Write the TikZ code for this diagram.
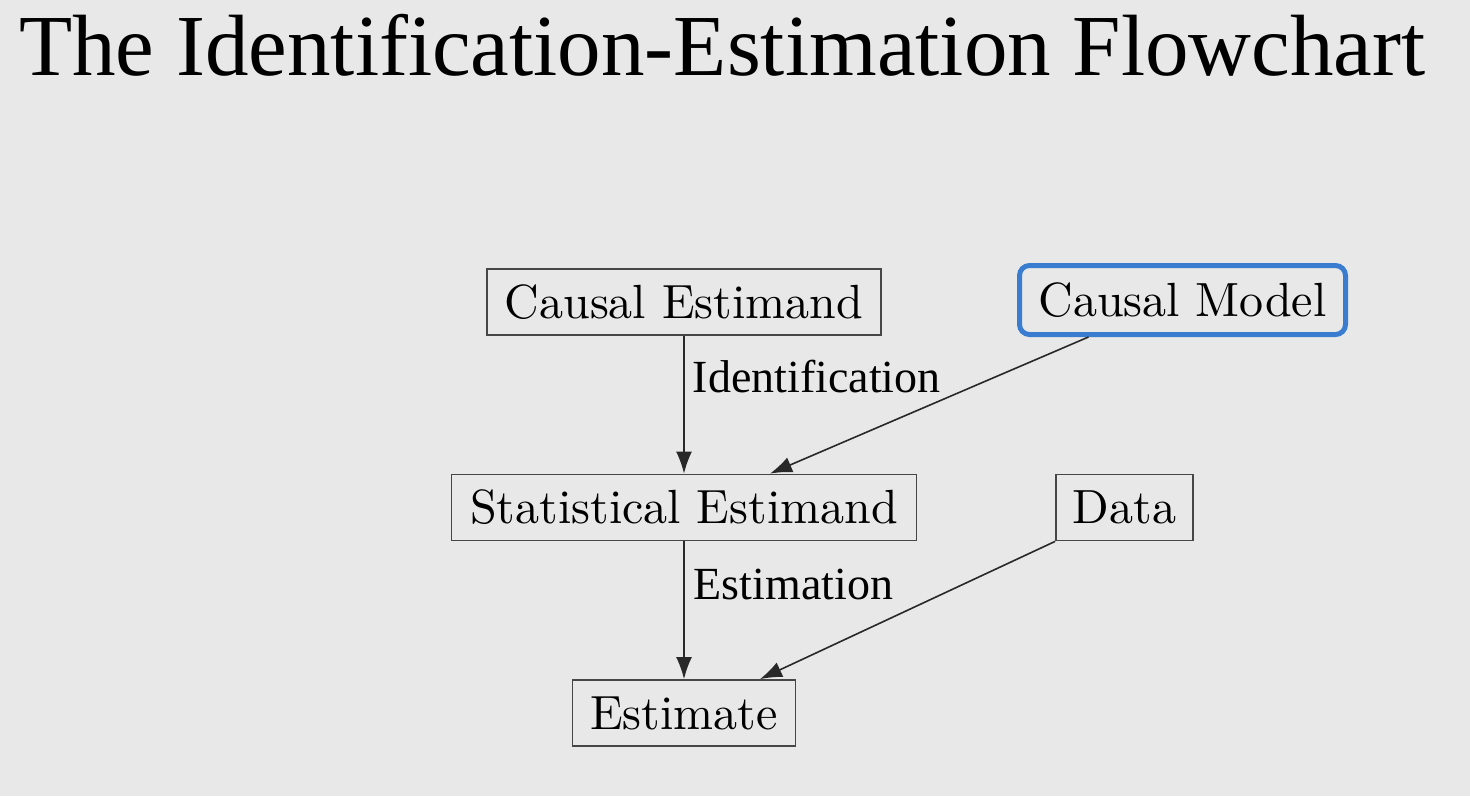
\documentclass[tikz,border=0pt]{standalone}
\usepackage{fontspec}
\newfontfamily\garafont{Liberation Serif}
\usetikzlibrary{arrows.meta}
\definecolor{bg}{RGB}{232,232,232}
\definecolor{boxline}{RGB}{70,70,70}
\definecolor{arrline}{RGB}{40,40,40}
\definecolor{cmblue}{RGB}{58,125,208}
\newcommand{\bigtxt}[1]{\scalebox{4.8}{\fontsize{10}{12}\selectfont #1}}
\begin{document}
\begin{tikzpicture}[x=1pt,y=-1pt,
  box/.style={draw=boxline, line width=1.8pt, minimum height=66pt, inner sep=0pt, anchor=center},
  cmbox/.style={draw=cmblue, line width=5pt, rounded corners=10pt, minimum height=69pt, inner sep=0pt, anchor=center},
  arr/.style={draw=arrline, line width=1.6pt, -{Latex[length=22pt,width=16pt]}},
  lbl/.style={font=\garafont\fontsize{46}{50}\selectfont, inner sep=0pt, anchor=base west, text=black},
  ttl/.style={font=\garafont\fontsize{87}{95}\selectfont, inner sep=0pt, anchor=base west, text=black}]
\fill[bg] (0,0) rectangle (1470,796);
\useasboundingbox (0,0) rectangle (1470,796);

\node[ttl] (title) at (19,75) {The Identification-Estimation Flowchart};

\node[box, minimum width=394pt] (ce) at (684,302) {\bigtxt{Causal Estimand}};
\node[cmbox, minimum width=326pt] (cm) at (1182.5,300) {\bigtxt{Causal Model}};
\node[box, minimum width=465pt] (se) at (684,507.5) {\bigtxt{Statistical Estimand}};
\node[box, minimum width=137pt] (data) at (1124.5,507.5) {\bigtxt{Data}};
\node[box, minimum width=223pt] (est) at (684,713) {\bigtxt{Estimate}};

\draw[arr] (ce.south) -- node[lbl, pos=0.41, xshift=8pt] {Identification} (se.north);
\draw[arr] ([xshift=-94pt]cm.south) -- ([xshift=86pt]se.north);
\draw[arr] (se.south) -- node[lbl, pos=0.42, xshift=9pt] {Estimation} (est.north);
\draw[arr] (data.south west) -- ([xshift=76pt]est.north);
\end{tikzpicture}
\end{document}
